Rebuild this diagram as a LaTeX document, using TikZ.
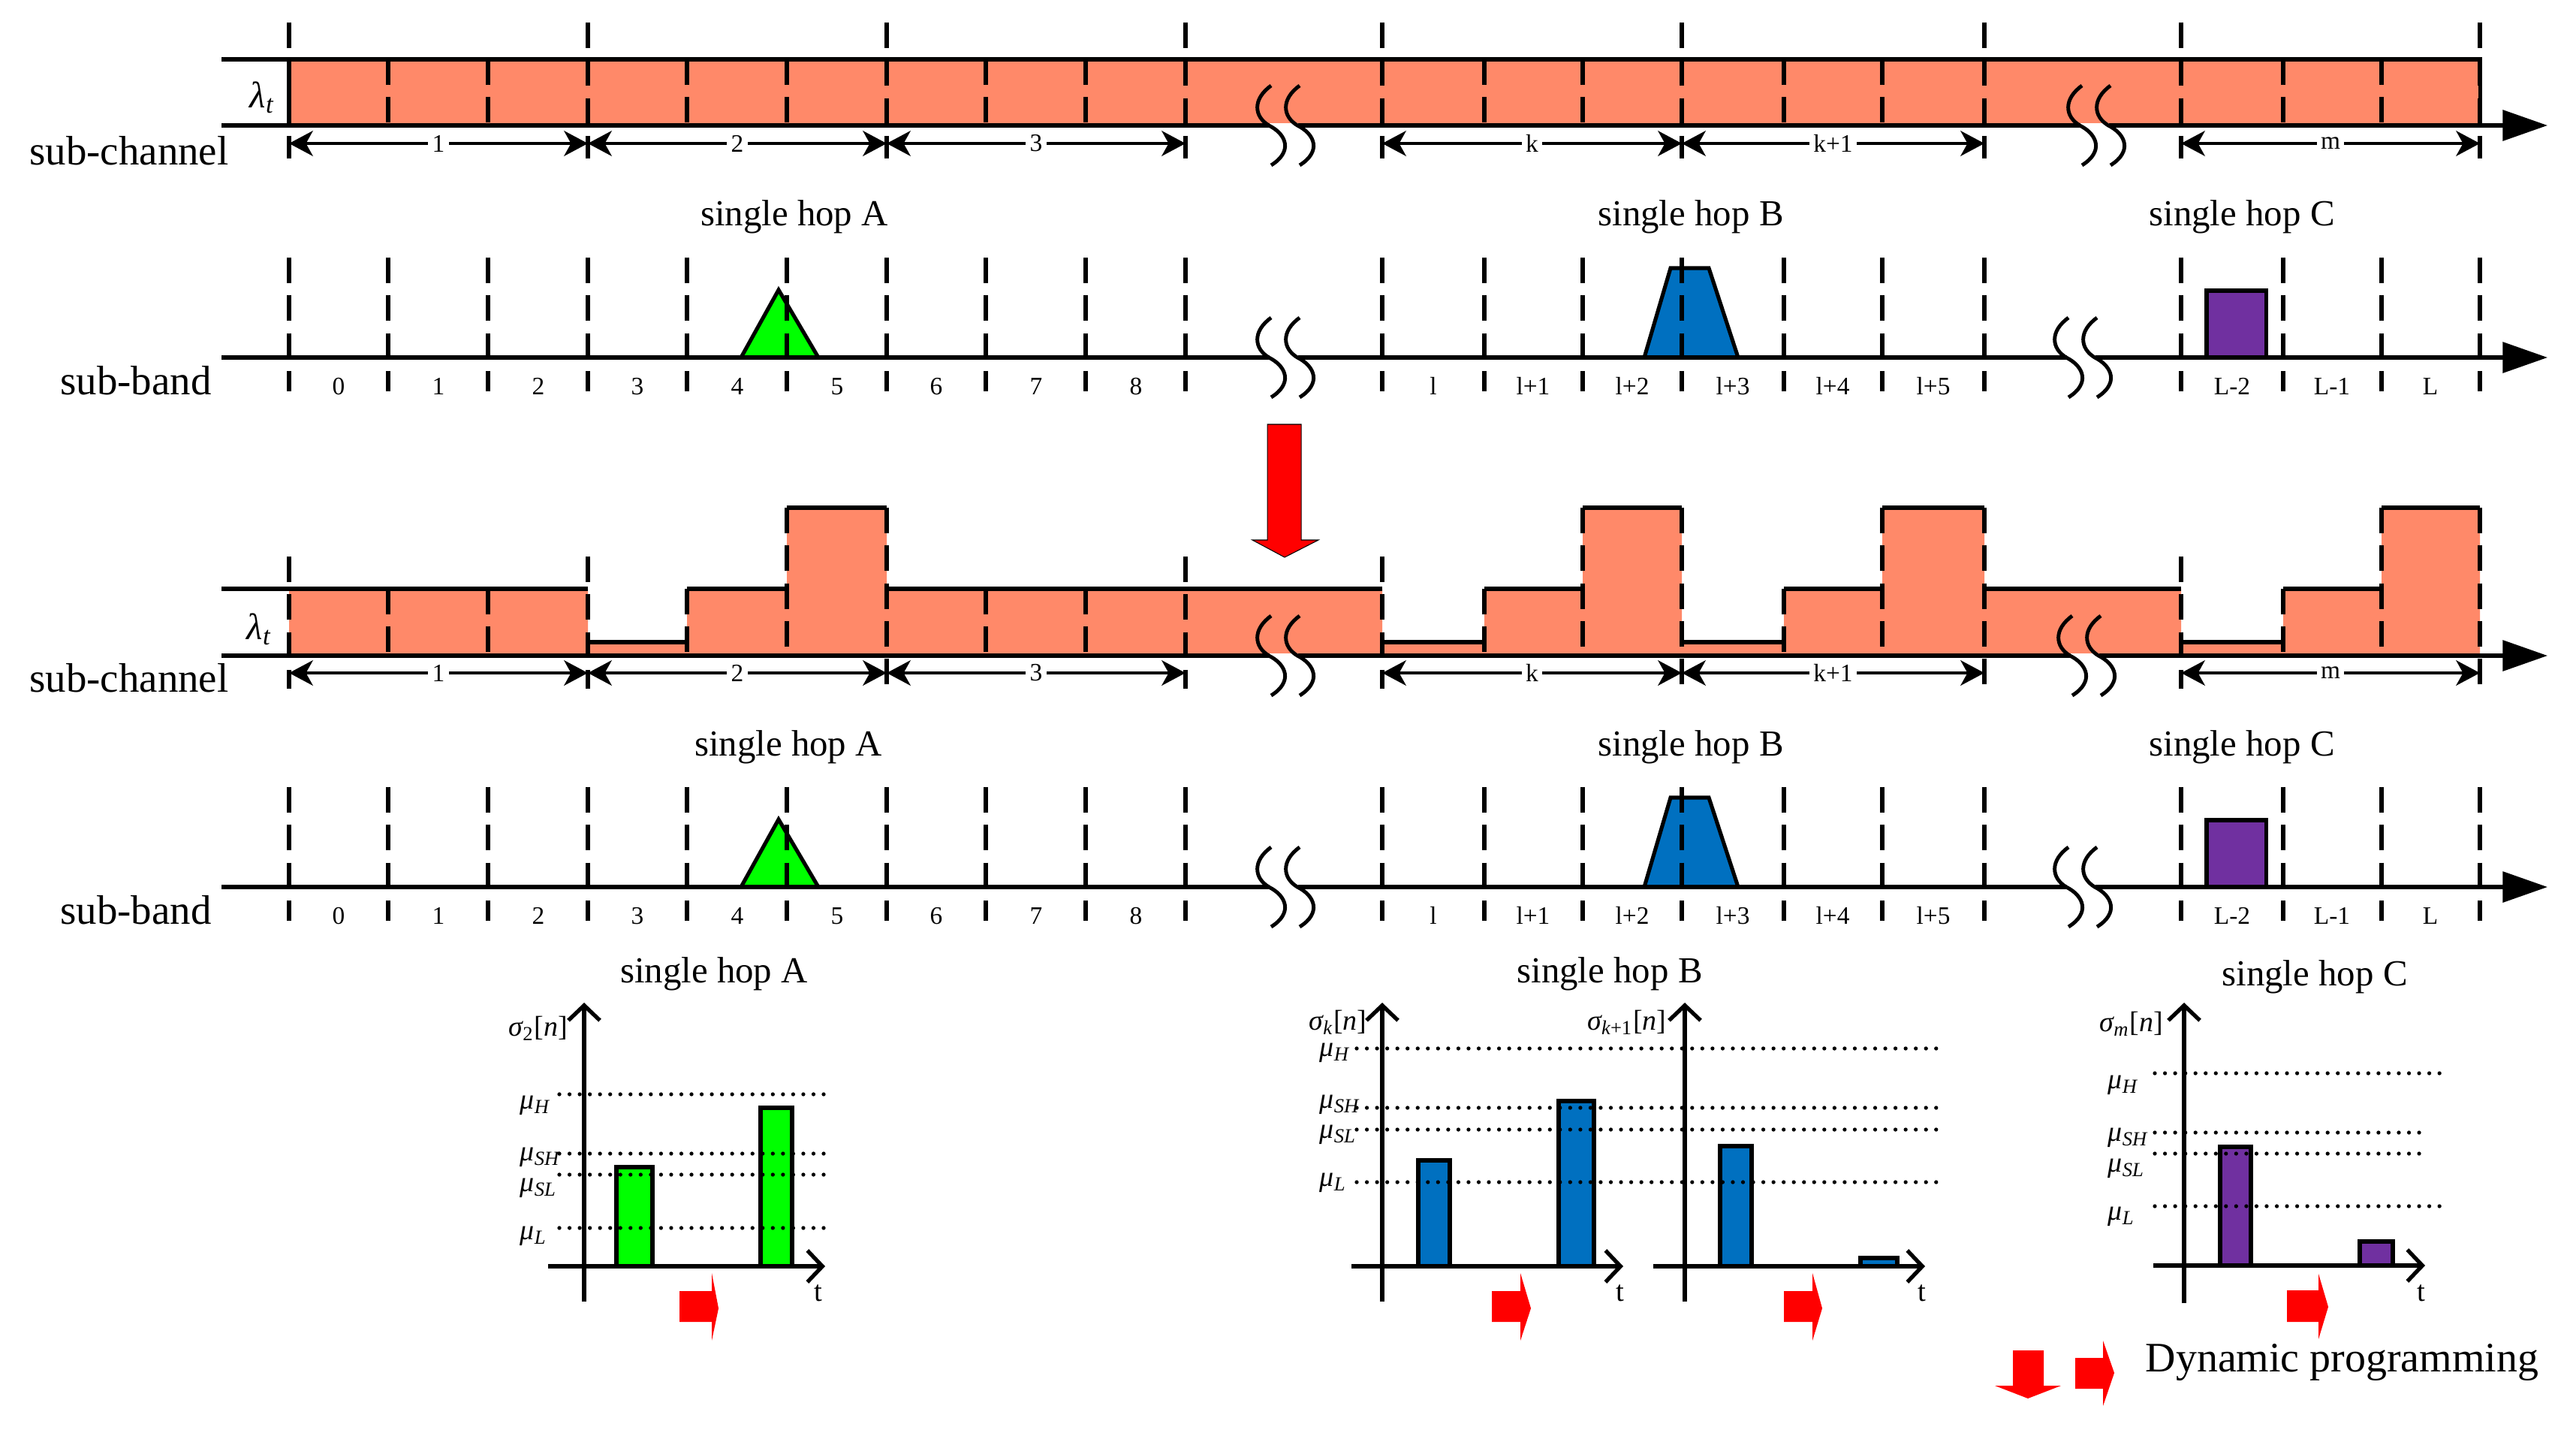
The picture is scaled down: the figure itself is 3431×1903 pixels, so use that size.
\documentclass[tikz,border=0pt]{standalone}
\usepackage{fontspec}
\setmainfont{Liberation Serif}
\usetikzlibrary{arrows.meta}
\definecolor{salmonfill}{RGB}{255,137,105}
\definecolor{greenfill}{RGB}{0,255,0}
\definecolor{bluefill}{RGB}{0,112,192}
\definecolor{purplefill}{RGB}{112,48,160}
\definecolor{redfill}{RGB}{255,0,0}
\tikzset{
  ln/.style={line width=1.45pt},
  dsh/.style={line width=1.5pt, dash pattern=on 9.7pt off 4.6pt},
  dotl/.style={line width=1.5pt, line cap=round, dash pattern=on 0pt off 3.85pt},
  axisarrow/.style={line width=1.45pt, -{Triangle[length=17pt,width=11.5pt]}},
  dimarrow/.style={line width=1.35pt, {Stealth[length=9pt,width=9.5pt,inset=2.6pt]}-{Stealth[length=9pt,width=9.5pt,inset=2.6pt]}},
  chartaxis/.style={line width=1.5pt, -{Straight Barb[length=0.2cm,width=0.42cm]}},
  barbox/.style={line width=1.5pt, draw=black},
  smalllbl/.style={font=\fontsize{9.5}{11}\selectfont, inner sep=0pt},
  dimlbl/.style={font=\fontsize{9.5}{11}\selectfont, fill=white, inner xsep=1.5pt, inner ysep=0.5pt},
  hoplbl/.style={font=\fontsize{13.9}{16}\selectfont, inner sep=0pt, anchor=base},
  rowlbl/.style={font=\fontsize{15.6}{18}\selectfont, inner sep=0pt, anchor=base},
  mulbl/.style={font=\fontsize{10.8}{12}\selectfont, inner sep=0pt, anchor=west},
  tlbl/.style={font=\fontsize{11}{12}\selectfont, inner sep=0pt},
  redarrow/.style={fill=redfill},
  brk/.pic={
    \fill[white] (1,-3) rectangle (39,5);
    \draw[line width=1.4pt] (3,-53) .. controls (-22,-35) and (-20,-12) .. (0,0) .. controls (24,12) and (32,35) .. (3,53);
    \draw[line width=1.4pt] (41,-53) .. controls (16,-35) and (18,-12) .. (38,0) .. controls (62,12) and (70,35) .. (41,53);
  }
}
\newcommand\subbandrow[1]{%
  \filldraw[fill=greenfill, draw=black, ln] (987,476) -- (1037,386) -- (1090,476) -- cycle;
  \filldraw[fill=bluefill, draw=black, ln] (2190,476) -- (2225,357) -- (2276,357) -- (2315,476) -- cycle;
  \filldraw[fill=purplefill, draw=black, ln] (2939,476) rectangle (3018,387);
  \foreach \x in {385,517,650,783,915,1048,1181,1313,1446,1579,1841,1977,2108,2240,2376,2507,2643,2905,3041,3172,3303}
    \draw[dsh] (\x,343) -- (\x,521);
  \draw[axisarrow] (295,476) -- (3393,476);
  \pic at (1690,476) {brk};
  \pic at (2752,476) {brk};
  \foreach \x/\lab [count=\i] in {451/0,584/1,717/2,849/3,982/4,1115/5,1247/6,1380/7,1513/8,1909/l,2042/l+1,2174/l+2,2308/l+3,2441/l+4,2575/l+5,2973/L-2,3106/L-1,3237/L}
    \node[smalllbl, anchor=base] (#1n\i) at (\x,525) {\lab};
  \node[rowlbl] (#1name) at (181,525) {sub-band};
}
\begin{document}
\begin{tikzpicture}[x=0.01cm,y=-0.01cm]
\useasboundingbox (0,0) rectangle (3431,1903);

% ================= top sub-channel band =================
\fill[salmonfill] (385,79) rectangle (3303,167);
\foreach \x in {517,650,915,1048,1313,1446,1977,2108,2376,2507,3041,3172}
  \draw[dsh] (\x,79) -- (\x,167);
\foreach \x in {385,783,1181,1579,1841,2240,2643,2905,3303}
  \draw[dsh] (\x,30) -- (\x,211);
\draw[ln] (295,79) -- (3303,79) -- (3303,167);
\draw[ln] (385,79) -- (385,167);
\draw[axisarrow] (295,167) -- (3393,167);
\pic at (1690,167) {brk};
\pic at (2770,167) {brk};
\node[font=\fontsize{14}{16}\selectfont, inner sep=0pt] (lam1) at (349,130) {{\itshape λ}\textsubscript{\itshape t}};
\node[rowlbl] (sc1) at (172,219) {sub-channel};
\foreach \a/\b/\lab/\nm in {385/783/1/da,783/1181/2/db,1181/1579/3/dc,1841/2240/k/dk,2240/2643/k+1/dl,2905/3303/m/dm}{
  \coordinate (\nm L) at (\a,191);
  \coordinate (\nm R) at (\b,191);
  \draw[dimarrow] (\nm L) -- (\nm R);
  \node[dimlbl] (\nm T) at ({(\a+\b)/2},191) {\lab};
}
\node[hoplbl] (hA1) at (1058,300) {single hop A};
\node[hoplbl] (hB1) at (2252,300) {single hop B};
\node[hoplbl] (hC1) at (2986,300) {single hop C};

% ================= top sub-band =================
\subbandrow{s1}

% ================= big red arrow =================
\filldraw[fill=redfill, draw=black, line width=0.3pt] (1688,565) -- (1733,565) -- (1733,719) -- (1756,719) -- (1711,742) -- (1668,719) -- (1688,719) -- cycle;

% ================= middle sub-channel band =================
\fill[salmonfill] (385,873) -- (385,784) -- (783,784) -- (783,855) -- (915,855) -- (915,784) -- (1048,784) -- (1048,676) -- (1181,676) -- (1181,784) -- (1841,784) -- (1841,855) -- (1977,855) -- (1977,784) -- (2108,784) -- (2108,676) -- (2240,676) -- (2240,855) -- (2376,855) -- (2376,784) -- (2507,784) -- (2507,676) -- (2643,676) -- (2643,784) -- (2905,784) -- (2905,855) -- (3041,855) -- (3041,784) -- (3172,784) -- (3172,676) -- (3303,676) -- (3303,873) -- cycle;
\foreach \a/\b/\y in {295/783/784,783/915/855,915/1048/784,1048/1181/676,1181/1841/784,1841/1977/855,1977/2108/784,2108/2240/676,2240/2376/855,2376/2507/784,2507/2643/676,2643/2905/784,2905/3041/855,3041/3172/784,3172/3303/676}
  \draw[ln] (\a,\y) -- (\b,\y);
\foreach \x/\y in {517/784,650/784,915/784,1048/676,1313/784,1446/784,1977/784,2108/676,2376/784,2507/676,3041/784,3172/676}
  \draw[dsh] (\x,\y) -- (\x,873);
\foreach \x/\y in {385/741,783/741,1181/676,1579/741,1841/741,2240/676,2643/676,2905/741,3303/676}
  \draw[dsh] (\x,\y) -- (\x,917);
\draw[axisarrow] (295,873) -- (3393,873);
\pic at (1690,873) {brk};
\pic at (2757,873) {brk};
\node[font=\fontsize{14}{16}\selectfont, inner sep=0pt] (lam2) at (345,838) {{\itshape λ}\textsubscript{\itshape t}};
\node[rowlbl] (sc2) at (172,921) {sub-channel};
\foreach \a/\b/\lab/\nm in {385/783/1/ea,783/1181/2/eb,1181/1579/3/ec,1841/2240/k/ek,2240/2643/k+1/el,2905/3303/m/em}{
  \coordinate (\nm L) at (\a,896);
  \coordinate (\nm R) at (\b,896);
  \draw[dimarrow] (\nm L) -- (\nm R);
  \node[dimlbl] (\nm T) at ({(\a+\b)/2},896) {\lab};
}
\node[hoplbl] (hA2) at (1050,1006) {single hop A};
\node[hoplbl] (hB2) at (2252,1006) {single hop B};
\node[hoplbl] (hC2) at (2986,1006) {single hop C};

% ================= middle sub-band =================
\begin{scope}[shift={(0,705)}]
\subbandrow{s2}
\end{scope}

% ================= chart A =================
\node[hoplbl] (cA) at (951,1308) {single hop A};
\filldraw[fill=greenfill, barbox] (821,1686) rectangle (869,1554);
\filldraw[fill=greenfill, barbox] (1013,1686) rectangle (1055,1475);
\foreach \y in {1457,1536,1564,1635} \draw[dotl] (745,\y) -- (1098,\y);
\draw[chartaxis] (778,1733) -- (778,1335);
\draw[chartaxis] (730,1686) -- (1099,1686);
\node[mulbl] (sA) at (677,1369) {{\itshape σ}\textsubscript{2}[{\itshape n}]};
\node[mulbl] (muHA) at (692,1472) {{\itshape μ}\textsubscript{\itshape H}};
\node[mulbl] (muSHA) at (692,1541) {{\itshape μ}\textsubscript{\itshape SH}};
\node[mulbl] (muSLA) at (692,1582) {{\itshape μ}\textsubscript{\itshape SL}};
\node[mulbl] (muLA) at (692,1646) {{\itshape μ}\textsubscript{\itshape L}};
\node[tlbl] (tA) at (1090,1722) {t};
\fill[redarrow] (905,1719) -- (948,1719) -- (948,1695) -- (957,1742) -- (948,1785) -- (948,1760) -- (905,1760) -- cycle;

% ================= chart B =================
\node[hoplbl] (cB) at (2144,1308) {single hop B};
\filldraw[fill=bluefill, barbox] (1889,1686) rectangle (1931,1545);
\filldraw[fill=bluefill, barbox] (2076,1686) rectangle (2123,1466);
\filldraw[fill=bluefill, barbox] (2291,1686) rectangle (2333,1526);
\filldraw[fill=bluefill, barbox] (2478,1686) rectangle (2527,1675);
\foreach \y in {1396,1475,1504,1574} \draw[dotl] (1807,\y) -- (2581,\y);
\draw[chartaxis] (1841,1733) -- (1841,1335);
\draw[chartaxis] (1800,1686) -- (2162,1686);
\draw[chartaxis] (2244,1733) -- (2244,1335);
\draw[chartaxis] (2202,1686) -- (2564,1686);
\node[mulbl] (sB1) at (1743,1361) {{\itshape σ}\textsubscript{\itshape k}[{\itshape n}]};
\node[mulbl, anchor=east] (sB2) at (2220,1361) {{\itshape σ}\textsubscript{{\itshape k}+1}[{\itshape n}]};
\node[mulbl] (muHB) at (1757,1402) {{\itshape μ}\textsubscript{\itshape H}};
\node[mulbl] (muSHB) at (1757,1471) {{\itshape μ}\textsubscript{\itshape SH}};
\node[mulbl] (muSLB) at (1757,1511) {{\itshape μ}\textsubscript{\itshape SL}};
\node[mulbl] (muLB) at (1757,1575) {{\itshape μ}\textsubscript{\itshape L}};
\node[tlbl] (tB1) at (2158,1722) {t};
\node[tlbl] (tB2) at (2560,1722) {t};
\fill[redarrow] (1987,1719) -- (2025,1719) -- (2025,1695) -- (2039,1742) -- (2025,1785) -- (2025,1760) -- (1987,1760) -- cycle;
\fill[redarrow] (2376,1719) -- (2414,1719) -- (2414,1695) -- (2427,1742) -- (2414,1785) -- (2414,1760) -- (2376,1760) -- cycle;

% ================= chart C =================
\node[hoplbl] (cC) at (3083,1312) {single hop C};
\filldraw[fill=purplefill, barbox] (2957,1685) rectangle (2998,1527);
\filldraw[fill=purplefill, barbox] (3143,1685) rectangle (3187,1653);
\foreach \y/\e in {1429/3251,1508/3224,1536/3224,1606/3251} \draw[dotl] (2870,\y) -- (\e,\y);
\draw[chartaxis] (2909,1735) -- (2909,1335);
\draw[chartaxis] (2868,1685) -- (3230,1685);
\node[mulbl] (sC) at (2796,1363) {{\itshape σ}\textsubscript{\itshape m}[{\itshape n}]};
\node[mulbl] (muHC) at (2807,1445) {{\itshape μ}\textsubscript{\itshape H}};
\node[mulbl] (muSHC) at (2807,1515) {{\itshape μ}\textsubscript{\itshape SH}};
\node[mulbl] (muSLC) at (2807,1556) {{\itshape μ}\textsubscript{\itshape SL}};
\node[mulbl] (muLC) at (2807,1620) {{\itshape μ}\textsubscript{\itshape L}};
\node[tlbl] (tC) at (3225,1722) {t};
\fill[redarrow] (3046,1718) -- (3088,1718) -- (3088,1696) -- (3101,1740) -- (3088,1783) -- (3088,1760) -- (3046,1760) -- cycle;

% ================= legend =================
\fill[redarrow] (2681,1798) -- (2722,1798) -- (2722,1845) -- (2745,1845) -- (2701,1862) -- (2657,1845) -- (2681,1845) -- cycle;
\fill[redarrow] (2764,1808) -- (2801,1808) -- (2801,1785) -- (2816,1828) -- (2801,1872) -- (2801,1849) -- (2764,1849) -- cycle;
\node[font=\fontsize{15.9}{18}\selectfont, inner sep=0pt, anchor=base west] (dp) at (2857,1826) {Dynamic programming};
\end{tikzpicture}
\end{document}
